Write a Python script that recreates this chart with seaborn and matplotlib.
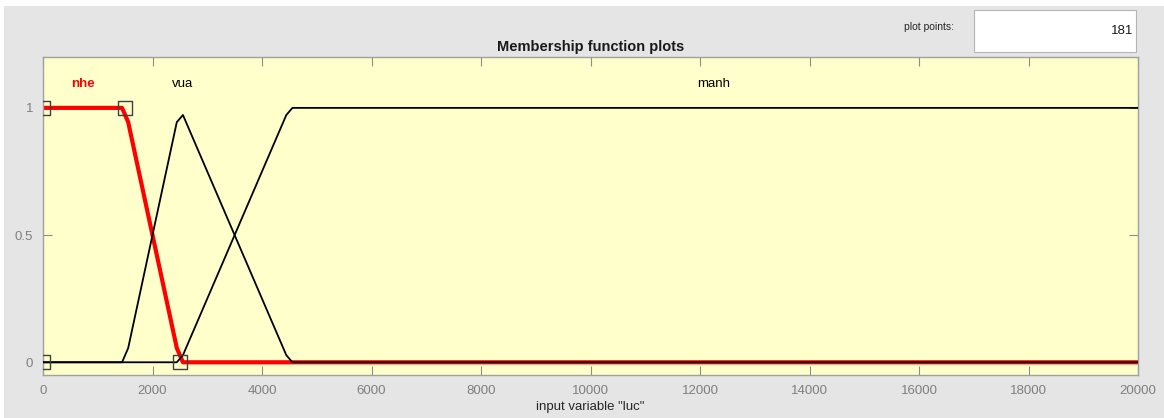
import numpy as np
import pandas as pd
import matplotlib
matplotlib.use("Agg")
import matplotlib.pyplot as plt
from matplotlib.patches import Rectangle
import seaborn as sns

# Membership functions of input variable "luc" (vertices of the sampled curves)
nhe_x = [0, 1444, 1556, 2444, 2556, 20000]
nhe_y = [1, 1, 0.944, 0.056, 0, 0]
vua_x = [0, 1444, 1556, 2444, 2556, 4444, 4556, 20000]
vua_y = [0, 0, 0.056, 0.944, 0.972, 0.028, 0, 0]
manh_x = [0, 2444, 2556, 4444, 4556, 20000]
manh_y = [0, 0, 0.028, 0.972, 1, 1]

# Parameter handles of the selected function (nhe)
handle_x = [0, 0, 1500, 2500]
handle_y = [1, 0, 1, 0]

mf_names = ["nhe", "vua", "manh"]
label_x = [730, 2550, 12250]
label_y = 1.095

x_ticks = list(range(0, 20001, 2000))
y_ticks = [0, 0.5, 1]
plot_points = "181"

W, H = 1164, 418
sns.set_style("ticks")
plt.rcParams["font.family"] = ["Liberation Sans", "DejaVu Sans"]

fig = plt.figure(figsize=(W / 100, H / 100), dpi=100)
fig.patch.set_facecolor("white")
fig.add_artist(Rectangle((4 / W, 0), 1 - 4 / W, 1 - 6 / H, transform=fig.transFigure,
                         facecolor="#e5e5e5", edgecolor="none", zorder=0))

ax = fig.add_axes([43 / W, 43 / H, 1095 / W, 318 / H])
ax.set_facecolor("#ffffcc")

frames = {
    "nhe": pd.DataFrame({"x": nhe_x, "y": nhe_y}),
    "vua": pd.DataFrame({"x": vua_x, "y": vua_y}),
    "manh": pd.DataFrame({"x": manh_x, "y": manh_y}),
}

sns.lineplot(data=frames["nhe"], x="x", y="y", ax=ax, color="red", lw=3,
             estimator=None, sort=False, zorder=2)
sns.lineplot(data=frames["vua"], x="x", y="y", ax=ax, color="black", lw=1.3,
             estimator=None, sort=False, zorder=3)
sns.lineplot(data=frames["manh"], x="x", y="y", ax=ax, color="black", lw=1.3,
             estimator=None, sort=False, zorder=3)
sns.scatterplot(x=handle_x, y=handle_y, ax=ax, marker="s", s=100,
                facecolor="none", edgecolor="#404040", linewidth=1.0, zorder=4)

for name, lx in zip(mf_names, label_x):
    is_sel = name == "nhe"
    ax.text(lx, label_y, name, ha="center", va="center", fontsize=9.5,
            color="red" if is_sel else "black",
            fontweight="bold" if is_sel else "normal")

ax.set_xlim(0, 20000)
ax.set_ylim(-0.05, 1.2)
ax.set_xticks(x_ticks)
ax.set_xticklabels([str(t) for t in x_ticks])
ax.set_yticks(y_ticks)
ax.set_yticklabels(["0", "0.5", "1"])
ax.tick_params(direction="in", length=6.5, width=0.8, color="#8c8c8c",
               labelcolor="#7f7f7f", labelsize=9.5, top=True, right=True, pad=7)
for sp in ax.spines.values():
    sp.set_color("#a0a0a0")
    sp.set_linewidth(1.0)

ax.set_xlabel('input variable "luc"', fontsize=9.5, color="#262626", labelpad=3)
ax.set_ylabel("")
ax.set_title("Membership function plots", fontsize=10.5, fontweight="bold",
             color="#1a1a1a", pad=4)

# "plot points" entry field
fig.add_artist(Rectangle((974 / W, 1 - 52 / H), 162 / W, 42 / H, transform=fig.transFigure,
                         facecolor="white", edgecolor="#b4b4b4", linewidth=0.8, zorder=1))
fig.text(929 / W, 1 - 27 / H, "plot points:", ha="center", va="center",
         fontsize=7.5, color="#262626")
fig.text(1133 / W, 1 - 31 / H, plot_points, ha="right", va="center",
         fontsize=9.5, color="#1a1a1a")

fig.savefig("out.png", dpi=100)
